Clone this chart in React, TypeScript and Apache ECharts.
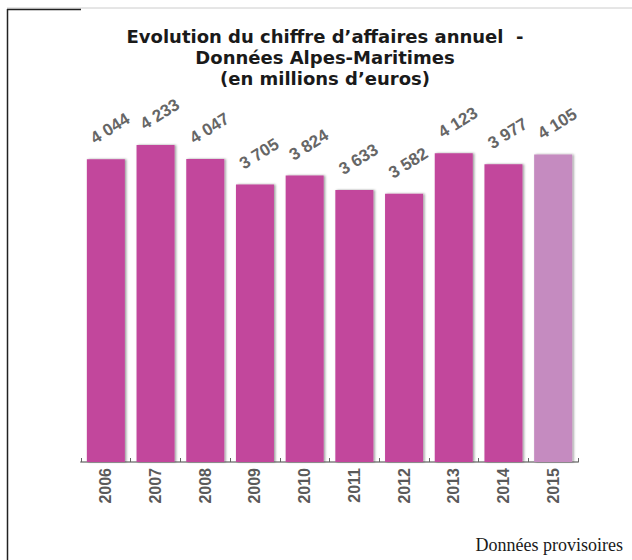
import React, { useEffect, useRef } from "react";
import * as echarts from "echarts";

const years = ["2006", "2007", "2008", "2009", "2010", "2011", "2012", "2013", "2014", "2015"];
const revenue = [4044, 4233, 4047, 3705, 3824, 3633, 3582, 4123, 3977, 4105];
const provisional = [false, false, false, false, false, false, false, false, false, true];

const titleText = "Evolution du chiffre d\u2019affaires annuel  -\nDonnées Alpes-Maritimes\n(en millions d\u2019euros)";
const noteText = "Données provisoires";

const fmt = (v: number) => {
  const s = String(v);
  return s.length > 3 ? s.slice(0, s.length - 3) + " " + s.slice(-3) : s;
};

export default function App() {
  const ref = useRef<HTMLDivElement>(null);
  useEffect(() => {
    if (!ref.current) return;
    const chart = echarts.init(ref.current, undefined, { renderer: "svg" });
    chart.setOption({
      animation: false,
      backgroundColor: "#ffffff",
      title: {
        text: titleText,
        left: 320,
        top: 21,
        textAlign: "center",
        textStyle: {
          fontFamily: "DejaVu Sans",
          fontWeight: "bold",
          fontSize: 18,
          lineHeight: 21,
          color: "#1a1a1a",
        },
      },
      grid: { left: 81, right: 54, top: 125, bottom: 98 },
      xAxis: {
        type: "category",
        data: years,
        axisLine: { show: true, lineStyle: { color: "#a0a0a0", width: 2 } },
        axisTick: { show: true, inside: true, length: 4, lineStyle: { color: "#666", width: 1 } },
        axisLabel: {
          rotate: 90,
          margin: 6,
          fontFamily: "Liberation Sans",
          fontWeight: "bold",
          fontSize: 16,
          color: "#5a5a5a",
        },
      },
      yAxis: { type: "value", min: 0, max: 4500, show: false, splitLine: { show: false } },
      series: [
        {
          type: "bar",
          barWidth: 38,
          data: revenue.map((v, i) => ({
            value: v,
            itemStyle: { color: provisional[i] ? "#C58BC0" : "#C2479C" },
          })),
          itemStyle: {
            shadowColor: "rgba(0,0,0,0.4)",
            shadowBlur: 2,
            shadowOffsetX: 1.5,
            shadowOffsetY: 0,
          },
          label: {
            show: true,
            position: "top",
            distance: 28,
            offset: [5, 0],
            rotate: 32,
            align: "center",
            verticalAlign: "middle",
            fontFamily: "Liberation Sans",
            fontWeight: "bold",
            fontSize: 17,
            color: "#666",
            formatter: (p: any) => fmt(p.value),
          },
        },
      ],
      graphic: [
        { type: "line", shape: { x1: 7, y1: 8, x2: 632, y2: 8 }, style: { stroke: "#cccccc", lineWidth: 1 } },
        { type: "line", shape: { x1: 7, y1: 9.5, x2: 81, y2: 9.5 }, style: { stroke: "#222", lineWidth: 1.5 } },
        { type: "line", shape: { x1: 7.5, y1: 9, x2: 7.5, y2: 560 }, style: { stroke: "#222", lineWidth: 1.5 } },
        {
          type: "text",
          x: 623,
          y: 545,
          style: {
            text: noteText,
            align: "right",
            verticalAlign: "middle",
            fontFamily: "Liberation Serif",
            fontSize: 18,
            fill: "#1a1a1a",
          },
        },
      ],
    });
    return () => chart.dispose();
  }, []);
  return (
    <div
      ref={ref}
      style={{ position: "fixed", left: 0, top: 0, width: 632, height: 560 }}
    />
  );
}
